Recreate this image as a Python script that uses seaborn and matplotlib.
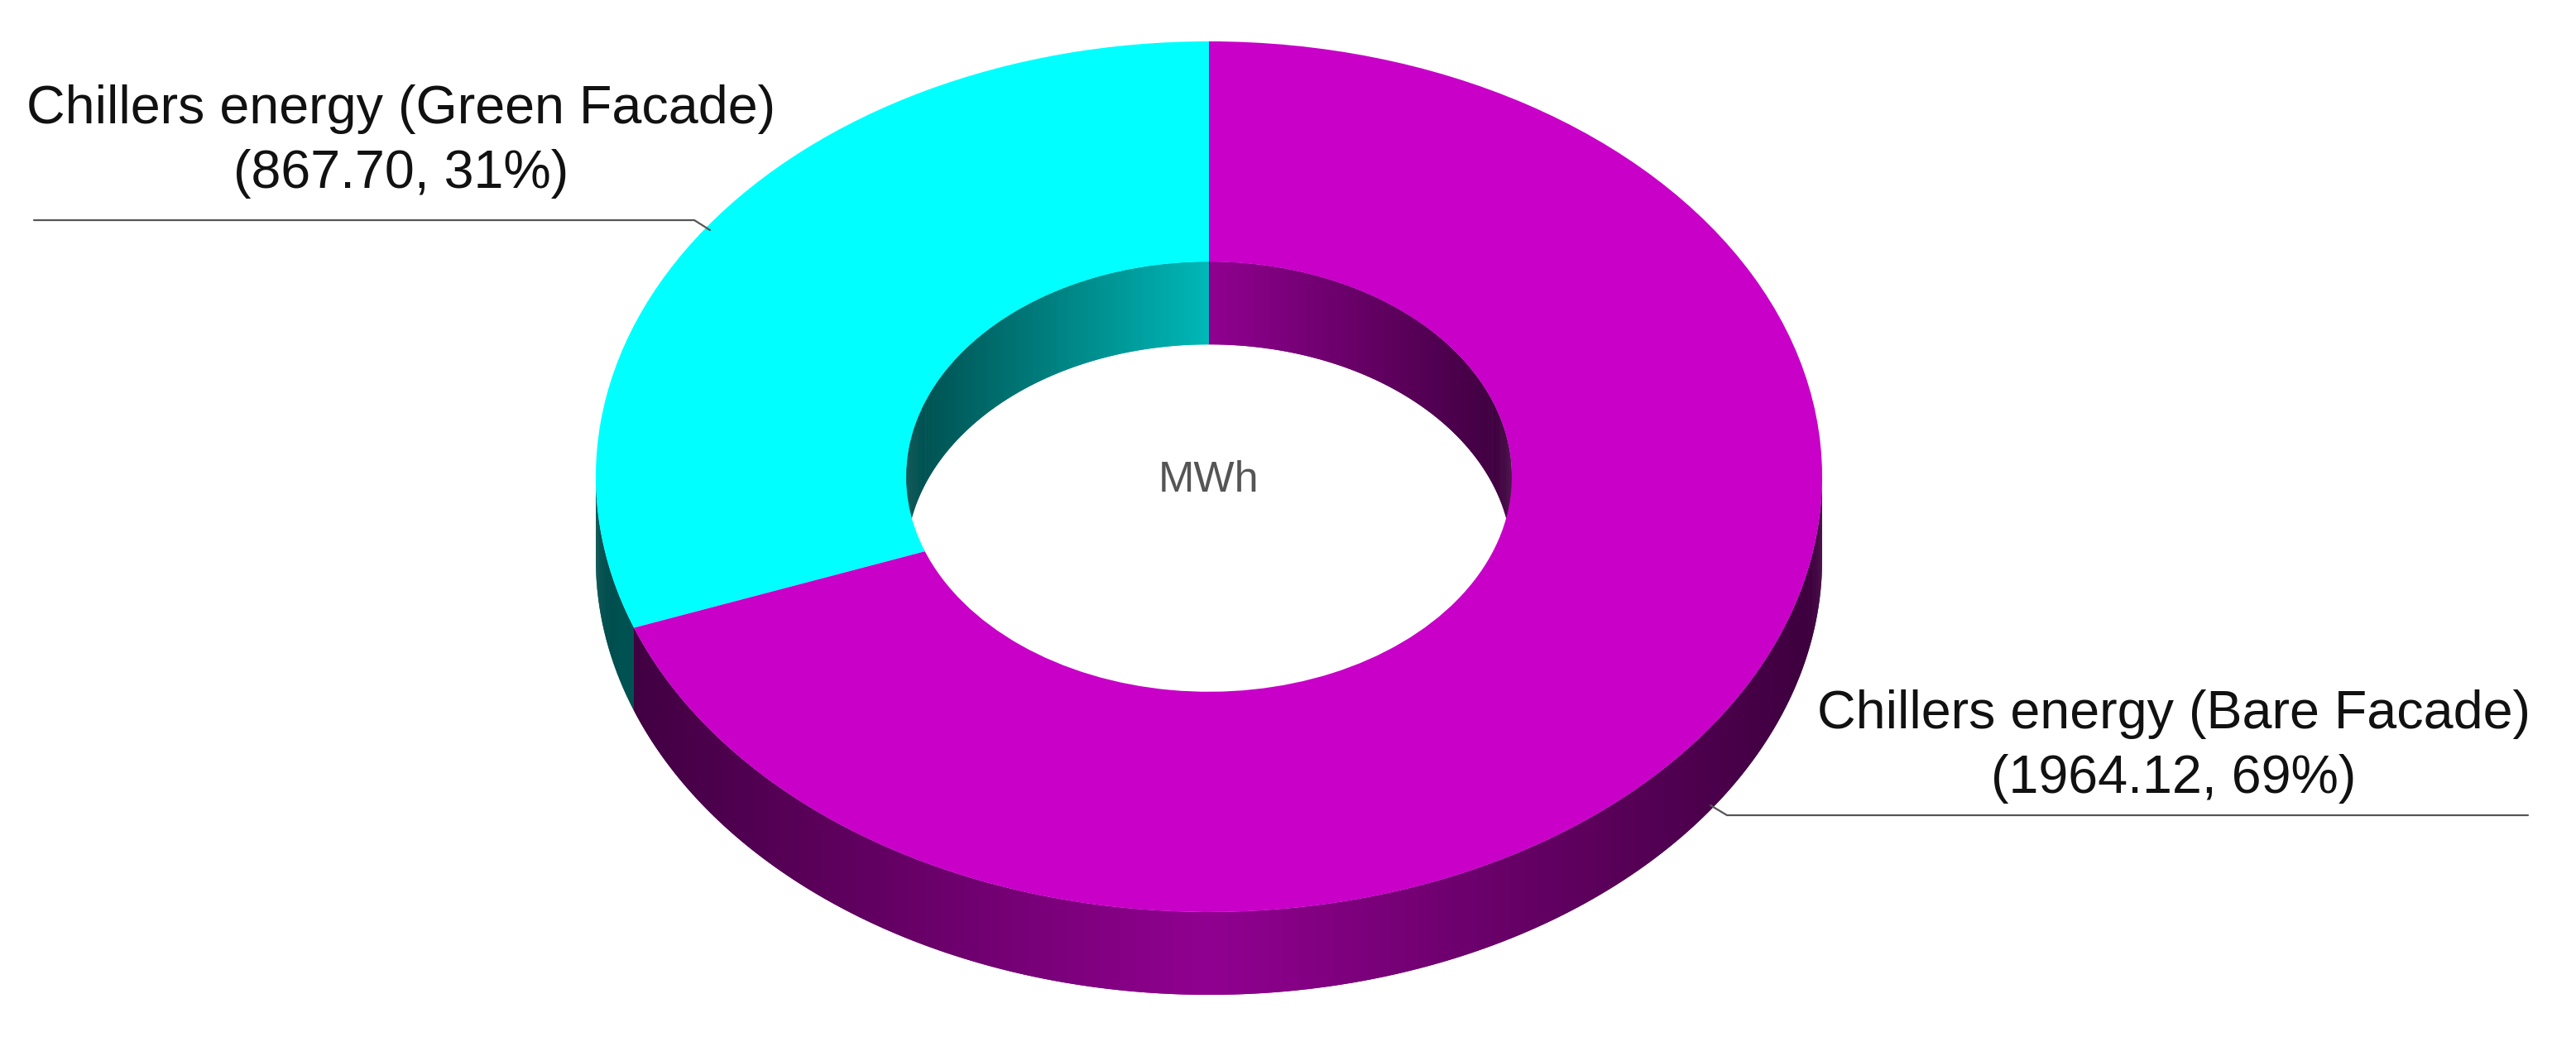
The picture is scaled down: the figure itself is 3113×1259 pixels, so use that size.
import numpy as np
import matplotlib
matplotlib.use("Agg")
import matplotlib.pyplot as plt
from matplotlib.collections import PolyCollection
import seaborn as sns

# ---- data ----
slice_names = ["Chillers energy (Green Facade)", "Chillers energy (Bare Facade)"]
slice_values = [867.70, 1964.12]
slice_percent = [31, 69]
centre_title = "MWh"

# ---- colours ----
face_colors = ["#00FFFF", "#C800C8"]
shade_edge = 0.30
shade_centre = 0.72

# ---- layout in output pixels ----
W, H = 3113, 1259
CX, CY = 1461, 576
RX, RY = 741, 526
INNER_RX = 366
DEPTH_PX = 100
label_line_centres = [(485, 149, 227), (2627, 880, 958)]
leader_paths = [[(41, 266), (839, 266), (858, 278)],
                [(3055, 985), (2087, 985), (2067, 973)]]

sns.set_theme(style="white")
plt.rcParams["font.family"] = ["Liberation Sans", "DejaVu Sans"]

fig = plt.figure(figsize=(W / 100, H / 100), dpi=100, facecolor="white")
ax = fig.add_axes([0, 0, 1, 1])


def px(x, y):
    """Output pixel position to data units (1 data unit = the pie radius)."""
    return (x - CX) / RX, (CY - y) / RY


inner = INNER_RX / RX
depth = DEPTH_PX / RY
palette = sns.color_palette(face_colors)

# Top face: a real donut; the axes scales squash the circle to an ellipse.
ax.pie(slice_values, colors=palette, startangle=90, counterclock=True, radius=1,
       wedgeprops=dict(width=1 - inner, linewidth=0, zorder=3))
ax.set_aspect("auto")
ax.set_xlim(*sorted((px(0, 0)[0], px(W, 0)[0])))
ax.set_ylim(px(0, H)[1], px(0, 0)[1])
ax.axis("off")

fractions = np.cumsum(slice_values) / np.sum(slice_values)
N_SHADES = 128
ramps = [sns.blend_palette([tuple(np.array(c) * shade_centre), tuple(np.array(c) * shade_edge)],
                           n_colors=N_SHADES) for c in palette]


def slice_index(theta_deg):
    frac = ((theta_deg - 90) % 360) / 360
    return int(np.searchsorted(fractions, frac, side="right").clip(0, len(fractions) - 1))


def wall(radius, t0, t1, n=720):
    """Wall below the rim, shaded by horizontal position. Each band runs on under
    the next one, so no seams show between the anti-aliased bands."""
    edges = np.linspace(t0, t1, n + 1)
    boundaries = 90 + fractions[:-1] * 360
    edges = np.unique(np.concatenate([edges, boundaries[(boundaries > t0) & (boundaries < t1)]]))
    polys, cols = [], []
    for i in range(len(edges) - 1):
        a, b = edges[i], edges[min(i + 2, len(edges) - 1)]
        arc = np.radians(np.linspace(a, b, 4))
        xs, ys = radius * np.cos(arc), radius * np.sin(arc)
        polys.append(list(zip(xs, ys)) + list(zip(xs[::-1], ys[::-1] - depth)))
        mid = (edges[i] + edges[i + 1]) / 2
        xm = abs(np.cos(np.radians(mid)))
        cols.append(ramps[slice_index(mid)][min(int(xm * N_SHADES), N_SHADES - 1)])
    ax.add_collection(PolyCollection(polys, facecolors=cols, edgecolors="none",
                                     linewidths=0, zorder=1))


wall(1.0, 180, 360)      # outer front wall
wall(inner, 0, 180)      # inner back wall, seen through the hole

# Centre title
x, y = px(CX, 594)
ax.text(x, y, centre_title, ha="center", va="baseline", fontsize=37.5, color="#555555", zorder=5)

# Labels and leader lines
for name, val, pct, (lx, y1, y2), path in zip(slice_names, slice_values, slice_percent,
                                              label_line_centres, leader_paths):
    ax.text(*px(lx, y1), name, ha="center", va="baseline", fontsize=46.5, color="#111111", zorder=5)
    ax.text(*px(lx, y2), f"({val:.2f}, {pct}%)", ha="center", va="baseline", fontsize=46.5,
            color="#111111", zorder=5)
    pts = np.array([px(*p) for p in path])
    ax.plot(pts[:, 0], pts[:, 1], color="#555555", lw=1.6, zorder=5, solid_joinstyle="miter")

fig.savefig("out.png", dpi=100, facecolor="white")
